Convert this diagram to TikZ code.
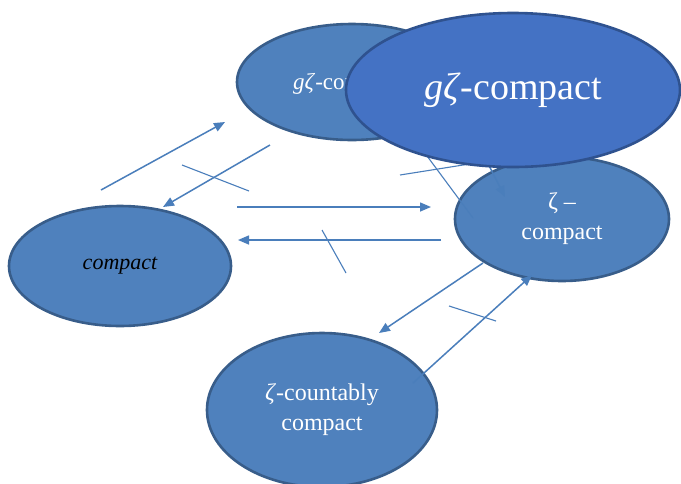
\documentclass[tikz,border=0pt]{standalone}
\usepackage{fontspec}
\setmainfont{Liberation Serif}
\usetikzlibrary{shapes.geometric,arrows.meta}
\definecolor{fillA}{HTML}{4F81BD}
\definecolor{edgeA}{HTML}{385D8A}
\definecolor{fillB}{HTML}{4472C4}
\definecolor{edgeB}{HTML}{2F528F}
\definecolor{lineC}{HTML}{4A7EBB}
\begin{document}
\begin{tikzpicture}[x=1pt,y=-1pt,
  blob/.style={ellipse, fill=fillA, draw=edgeA, line width=2.6pt, inner sep=0pt, text=white, align=center},
  arr/.style={draw=lineC, line width=1.5pt, -{Triangle[length=11pt,width=9pt]}},
  tick/.style={draw=lineC, line width=1.1pt}]
\clip (0,0) rectangle (681,483);
\fill[white] (0,0) rectangle (681,483);

% back ellipse
\node[blob, minimum width=230pt, minimum height=116pt] (gback) at (352,82) {};
\node[text=white, font=\fontsize{23}{26}\selectfont] (gbacktext) at (347,84) {\textit{gζ}-compact};

% other nodes
\node[blob, text=black, minimum width=222pt, minimum height=120pt, font=\fontsize{22}{26}\selectfont\itshape] (cp) at (120,266) {compact};
\node[blob, minimum width=230pt, minimum height=154pt, font=\fontsize{24}{30}\selectfont] (zcc) at (322,410) {\textit{ζ}-countably\\compact};
\node[blob, minimum width=214pt, minimum height=124pt, font=\fontsize{24}{30}\selectfont] (zc) at (562,219) {ζ –\\compact};

% connector end points
\coordinate (a1s) at (101,190); \coordinate (a1e) at (225,122);
\coordinate (a2s) at (270,145); \coordinate (a2e) at (163,207);
\coordinate (t1s) at (182,165); \coordinate (t1e) at (249,191);
\coordinate (a3s) at (237,207); \coordinate (a3e) at (431,207);
\coordinate (a4s) at (441,240); \coordinate (a4e) at (238,240);
\coordinate (t2s) at (322,230); \coordinate (t2e) at (346,273);
\coordinate (t3s) at (400,175); \coordinate (t3e) at (520,156);
\coordinate (t4s) at (410,133); \coordinate (t4e) at (473,218);
\coordinate (a5s) at (476,140); \coordinate (a5e) at (505,197);
\coordinate (a6s) at (483,263); \coordinate (a6e) at (379,333);
\coordinate (a7s) at (413,383); \coordinate (a7e) at (532,275);
\coordinate (t5s) at (449,306); \coordinate (t5e) at (496,321);

\draw[arr] (a1s) -- (a1e);
\draw[arr] (a2s) -- (a2e);
\draw[tick] (t1s) -- (t1e);
\draw[arr] (a3s) -- (a3e);
\draw[arr] (a4s) -- (a4e);
\draw[tick] (t2s) -- (t2e);
\draw[tick] (t3s) -- (t3e);
\draw[tick] (t4s) -- (t4e);
\draw[arr] (a5s) -- (a5e);
\draw[arr] (a6s) -- (a6e);
\draw[arr] (a7s) -- (a7e);
\draw[tick] (t5s) -- (t5e);

% front ellipse
\node[ellipse, fill=fillB, draw=edgeB, line width=2.6pt, inner sep=0pt, minimum width=334pt, minimum height=154pt, text=white, font=\fontsize{38}{42}\selectfont] (gfront) at (513,90) {\textit{gζ}-compact};
\end{tikzpicture}
\end{document}
